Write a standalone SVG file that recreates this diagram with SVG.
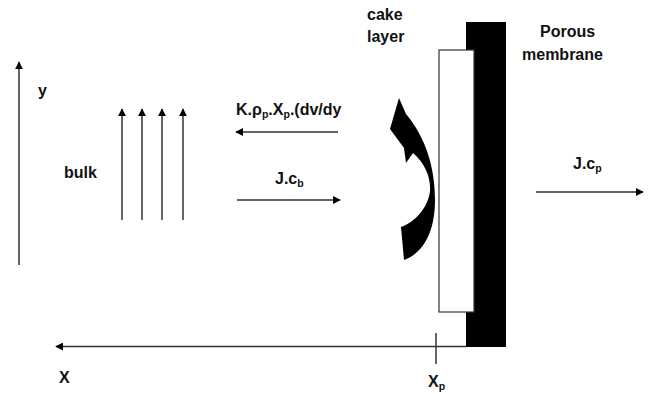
<svg xmlns="http://www.w3.org/2000/svg" width="650" height="394" viewBox="0 0 650 394">
<defs>
<marker id="ah" viewBox="0 0 10 10" refX="9" refY="5" markerWidth="8" markerHeight="8" markerUnits="userSpaceOnUse" orient="auto">
<path d="M0,0 L10,5 L0,10 Z" fill="#000"/>
</marker>
<style>
.t{font-family:"Liberation Sans",Arial,sans-serif;font-weight:bold;font-size:16px;fill:#111}
.s{font-size:10.5px}
.ln{stroke:#333;stroke-width:1.5;fill:none}
</style>
</defs>
<rect width="650" height="394" fill="#fff"/>
<g id="membrane"><rect x="466" y="22" width="40" height="325" fill="#000"/></g>
<g id="cake"><rect x="439" y="50" width="35" height="262" fill="#fff" stroke="#333" stroke-width="1.2"/></g>
<g id="connectors">
<line class="ln" x1="19" y1="265" x2="19" y2="62" marker-end="url(#ah)"/>
<line class="ln" x1="122" y1="220" x2="122" y2="109" marker-end="url(#ah)"/>
<line class="ln" x1="142" y1="220" x2="142" y2="109" marker-end="url(#ah)"/>
<line class="ln" x1="162" y1="220" x2="162" y2="109" marker-end="url(#ah)"/>
<line class="ln" x1="183" y1="220" x2="183" y2="109" marker-end="url(#ah)"/>
<line class="ln" x1="338" y1="132" x2="236" y2="132" marker-end="url(#ah)"/>
<line class="ln" x1="237" y1="200" x2="340" y2="200" marker-end="url(#ah)"/>
<line class="ln" x1="536" y1="192" x2="643" y2="192" marker-end="url(#ah)"/>
<line class="ln" x1="466" y1="346.5" x2="56" y2="346.5" marker-end="url(#ah)"/>
<line class="ln" x1="436" y1="333" x2="436" y2="364"/>
<path id="curved-arrow" d="M399,98 L390,129 L404,148 L406,163 L413,153 C425,163 431,178 430,191 C428,208 415,222 401,227 L404,260 C426,252 435,228 435,200 C435,168 426,138 406,114 Z" fill="#000"/>
</g>
<g id="labels">
<text class="t" x="367" y="20">cake</text>
<text class="t" x="367" y="42">layer</text>
<text class="t" x="540" y="37">Porous</text>
<text class="t" x="522" y="60">membrane</text>
<text class="t" x="38" y="96">y</text>
<text class="t" x="64" y="178">bulk</text>
<text class="t" x="236" y="115">K.ρ<tspan class="s" dy="3">p</tspan><tspan dy="-3">.X</tspan><tspan class="s" dy="3">p</tspan><tspan dy="-3">.(dv/dy</tspan></text>
<text class="t" x="275" y="184">J.c<tspan class="s" dy="3">b</tspan></text>
<text class="t" x="573" y="169">J.c<tspan class="s" dy="3">p</tspan></text>
<text class="t" x="59" y="383">X</text>
<text class="t" x="428" y="387">X<tspan class="s" dy="3">p</tspan></text>
</g>
</svg>
